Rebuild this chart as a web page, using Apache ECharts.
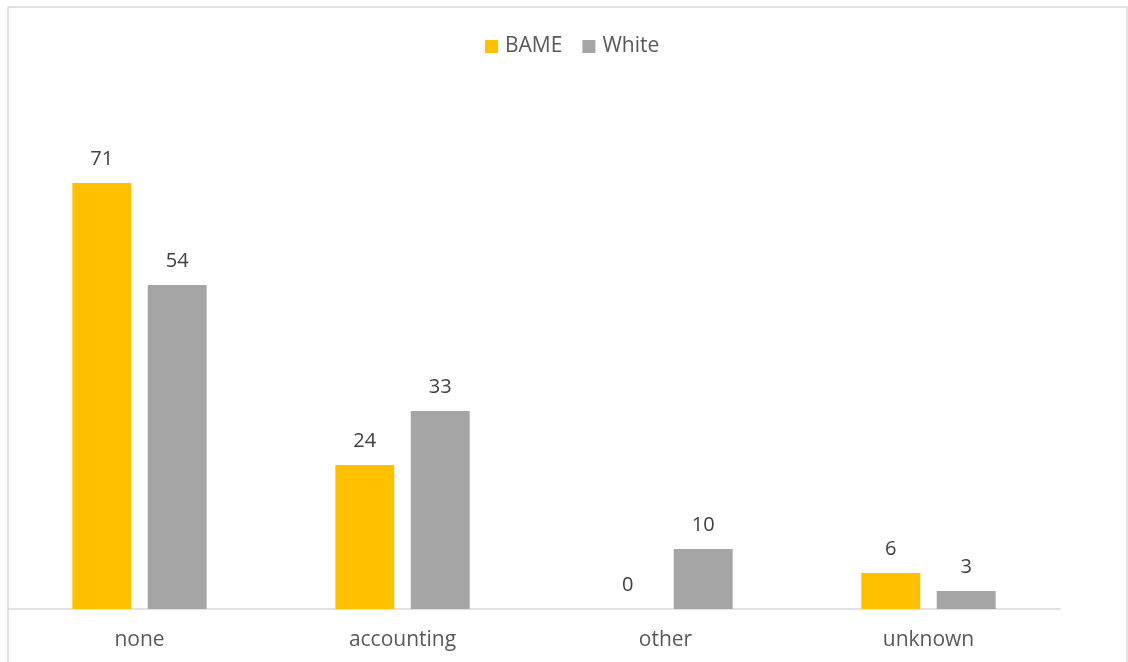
<!DOCTYPE html>
<html>
<head>
<meta charset="utf-8">
<script src="https://cdn.jsdelivr.net/npm/echarts@6/dist/echarts.min.js"></script>
<style>
  html, body { margin: 0; padding: 0; background: #ffffff; }
  #chart { width: 1128px; height: 662px; }
</style>
</head>
<body>
<div id="chart"></div>
<script>
// Categories and values (percent) for each group
const categories = ['none', 'accounting', 'other', 'unknown'];
const bameValues = [71, 24, 0, 6];
const whiteValues = [54, 33, 10, 3];
const seriesNames = ['BAME', 'White'];

const FONT = '"Open Sans", "Liberation Sans", sans-serif';

const chart = echarts.init(document.getElementById('chart'), null, { renderer: 'canvas' });

const labelStyle = {
  show: true,
  position: 'top',
  distance: 14,
  color: '#404040',
  fontSize: 20,
  fontFamily: FONT
};

chart.setOption({
  animation: false,
  backgroundColor: '#ffffff',
  graphic: [{
    type: 'rect',
    shape: { x: 8, y: 7, width: 1119, height: 700 },
    style: { fill: 'none', stroke: '#d9d9d9', lineWidth: 1.5 },
    silent: true,
    z: -1
  }],
  legend: {
    top: 31,
    left: 480,
    itemWidth: 13,
    itemHeight: 13,
    itemGap: 20,
    icon: 'rect',
    textStyle: { color: '#595959', fontSize: 21, fontFamily: FONT, padding: [0, 0, 0, 2] },
    data: seriesNames
  },
  grid: { left: 8, right: 68, top: 129, bottom: 53, containLabel: false },
  xAxis: {
    type: 'category',
    data: categories,
    axisLine: { show: true, lineStyle: { color: '#d9d9d9', width: 1.5 } },
    axisTick: { show: false },
    axisLabel: { color: '#595959', fontSize: 21, fontFamily: FONT, margin: 21 }
  },
  yAxis: {
    type: 'value',
    min: 0,
    max: 80,
    interval: 10,
    show: false,
    splitLine: { show: false }
  },
  series: [
    {
      name: seriesNames[0],
      type: 'bar',
      data: bameValues,
      barWidth: '22.4%',
      barGap: '28%',
      itemStyle: { color: '#ffc000' },
      label: labelStyle
    },
    {
      name: seriesNames[1],
      type: 'bar',
      data: whiteValues,
      barWidth: '22.4%',
      barGap: '28%',
      itemStyle: { color: '#a5a5a5' },
      label: labelStyle
    }
  ]
});
</script>
</body>
</html>
